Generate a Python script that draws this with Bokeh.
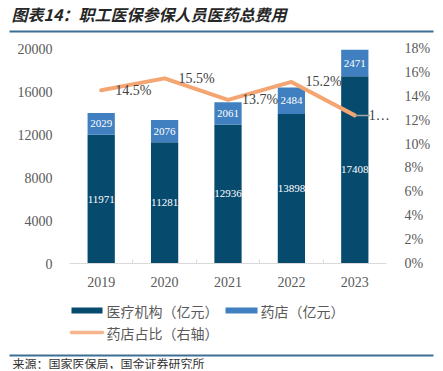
from bokeh.plotting import figure
from bokeh.models import Range1d, LinearAxis, FixedTicker, NumeralTickFormatter, ColumnDataSource, LabelSet
from bokeh.core.properties import value
from bokeh.embed import file_html
from bokeh.resources import INLINE

# ---- data ----
years = ["2019", "2020", "2021", "2022", "2023"]
hospital = [11971, 11281, 12936, 13898, 17408]     # 医疗机构（亿元）
pharmacy = [2029, 2076, 2061, 2484, 2471]          # 药店（亿元）
share_pct = [14.5, 15.5, 13.7, 15.2, 12.4]          # 药店占比（右轴）
share_labels = ["14.5%", "15.5%", "13.7%", "15.2%", "1…"]
left_ticks = [0, 4000, 8000, 12000, 16000, 20000]
right_ticks_pct = [0, 2, 4, 6, 8, 10, 12, 14, 16, 18]
y_max = 20000
pct_max = 0.18

title_text = "图表14：职工医保参保人员医药总费用"
source_text = "来源：国家医保局，国金证券研究所"
legend_names = ["医疗机构（亿元）", "药店（亿元）", "药店占比（右轴）"]

# ---- styles / layout (pixel positions of the picture) ----
DARK = "#064A6E"
LIGHT = "#4180C0"
ORANGE = "#F4A672"
RULE = "#3C6F96"
GRAY = "#595959"
SERIF = value("Liberation Serif")
CJK = value("Noto Sans CJK SC")

W, H = 441, 369
ORG = 1                       # picture pixel of canvas origin
PLOT_L, PLOT_R = 70, 387      # plot area in picture pixels
PLOT_T, PLOT_B = 49, 264

n = len(years)
px_per_cat = (PLOT_R - PLOT_L) / n
x_start = -0.5 - (PLOT_L - ORG) / px_per_cat
x_end = n - 0.5 + (ORG + W - PLOT_R) / px_per_cat
px_per_val = (PLOT_B - PLOT_T) / y_max
y_start = -(ORG + H - PLOT_B) / px_per_val
y_end = y_max + (PLOT_T - ORG) / px_per_val
k = pct_max / y_max

p = figure(width=W, height=H, x_range=Range1d(x_start, x_end), y_range=Range1d(y_start, y_end),
           output_backend="svg", toolbar_location=None, min_border=0,
           min_border_left=0, min_border_right=0, min_border_top=0, min_border_bottom=0)
p.outline_line_color = None
p.xgrid.visible = False
p.ygrid.visible = False
p.extra_y_ranges = {"pct": Range1d(y_start * k, y_end * k),
                    "py": Range1d(ORG + H, ORG)}
p.extra_x_ranges = {"px": Range1d(ORG, ORG + W)}

# ---- bars ----
xs = list(range(n))
tops = [h + d for h, d in zip(hospital, pharmacy)]
share = [v / 100 for v in share_pct]
src = ColumnDataSource(dict(
    x=xs, hosp=hospital, top=tops, bot=hospital,
    hosp_mid=[h / 2 for h in hospital],
    ph_mid=[h + d / 2 for h, d in zip(hospital, pharmacy)],
    hosp_lab=[str(v) for v in hospital], ph_lab=[str(v) for v in pharmacy],
    share=share, share_lab=share_labels,
))
p.vbar(x="x", bottom=0, top="hosp", width=0.43, fill_color=DARK, line_color=None, source=src)
p.vbar(x="x", bottom="bot", top="top", width=0.43, fill_color=LIGHT, line_color=None, source=src)
p.add_layout(LabelSet(x="x", y="hosp_mid", text="hosp_lab", source=src, text_align="center",
                      text_baseline="middle", text_color="white", text_font=SERIF, text_font_size="11px"))
p.add_layout(LabelSet(x="x", y="ph_mid", text="ph_lab", source=src, text_align="center",
                      text_baseline="middle", text_color="white", text_font=SERIF, text_font_size="11px"))

# ---- share line ----
p.line(x="x", y="share", source=src, y_range_name="pct", line_color=ORANGE, line_width=4,
       line_join="round", line_cap="round")
last = n - 1
p.segment(x0=[last], y0=[share[last]], x1=[last + 0.24], y1=[share[last]], y_range_name="pct",
          line_color="#A6A6A6", line_width=1.5)
p.add_layout(LabelSet(x="x", y="share", text="share_lab", source=src, y_range_name="pct",
                      x_offset=14, text_baseline="middle", text_color="#404040",
                      text_font=SERIF, text_font_size="14px"))

# ---- axes (drawn at the plot-area edges) ----
xa = p.xaxis[0]
xa.fixed_location = 0
xa.bounds = (-0.5, n - 0.5)
xa.ticker = FixedTicker(ticks=xs, minor_ticks=[i + 0.5 for i in xs[:-1]])
xa.major_label_overrides = {i: y for i, y in zip(xs, years)}
xa.major_tick_line_color = None
xa.minor_tick_in = 4
xa.minor_tick_out = 0
xa.minor_tick_line_color = "#D9D9D9"
xa.axis_line_color = "#D9D9D9"
xa.major_label_standoff = 7
xa.major_label_text_font = "Liberation Serif"
xa.major_label_text_font_size = "14px"
xa.major_label_text_color = GRAY

ya = p.yaxis[0]
ya.fixed_location = -0.5
ya.ticker = FixedTicker(ticks=left_ticks)
ya.axis_line_color = None
ya.major_tick_line_color = None
ya.minor_tick_line_color = None
ya.major_label_standoff = 11
ya.major_label_text_font = "Liberation Serif"
ya.major_label_text_font_size = "14px"
ya.major_label_text_color = GRAY

ra = LinearAxis(y_range_name="pct", ticker=FixedTicker(ticks=[v / 100 for v in right_ticks_pct]),
                formatter=NumeralTickFormatter(format="0%"), fixed_location=n - 0.5)
ra.axis_line_color = None
ra.major_tick_line_color = None
ra.minor_tick_line_color = None
ra.major_label_standoff = 12
ra.major_label_text_font = "Liberation Serif"
ra.major_label_text_font_size = "14px"
ra.major_label_text_color = GRAY
p.add_layout(ra, "right")

# ---- title, rules, legend, source (picture pixel ranges) ----
kw = dict(x_range_name="px", y_range_name="py")
p.text(x=[12], y=[14], text=[title_text], text_font=CJK, text_font_size="16px",
       text_font_style="bold italic", text_color="#262626", text_baseline="middle", **kw)
p.quad(left=[10], right=[434], top=[31], bottom=[33], fill_color=RULE, line_color=None, **kw)

p.quad(left=[72], right=[103], top=[308], bottom=[314], fill_color=DARK, line_color=None, **kw)
p.text(x=[107], y=[311], text=[legend_names[0]], text_font=CJK, text_font_size="14px",
       text_color=GRAY, text_baseline="middle", **kw)
p.quad(left=[226], right=[258], top=[308], bottom=[314], fill_color=LIGHT, line_color=None, **kw)
p.text(x=[261], y=[311], text=[legend_names[1]], text_font=CJK, text_font_size="14px",
       text_color=GRAY, text_baseline="middle", **kw)
p.segment(x0=[72], y0=[333], x1=[103], y1=[333], line_color="#F6B58A", line_width=3.5,
          line_cap="round", **kw)
p.text(x=[107], y=[333], text=[legend_names[2]], text_font=CJK, text_font_size="14px",
       text_color=GRAY, text_baseline="middle", **kw)

p.quad(left=[10], right=[434], top=[355], bottom=[357], fill_color=RULE, line_color=None, **kw)
p.text(x=[13], y=[364], text=[source_text], text_font=CJK, text_font_size="12px",
       text_color="#333333", text_baseline="middle", **kw)

open("out.html", "w").write(file_html(p, INLINE))
